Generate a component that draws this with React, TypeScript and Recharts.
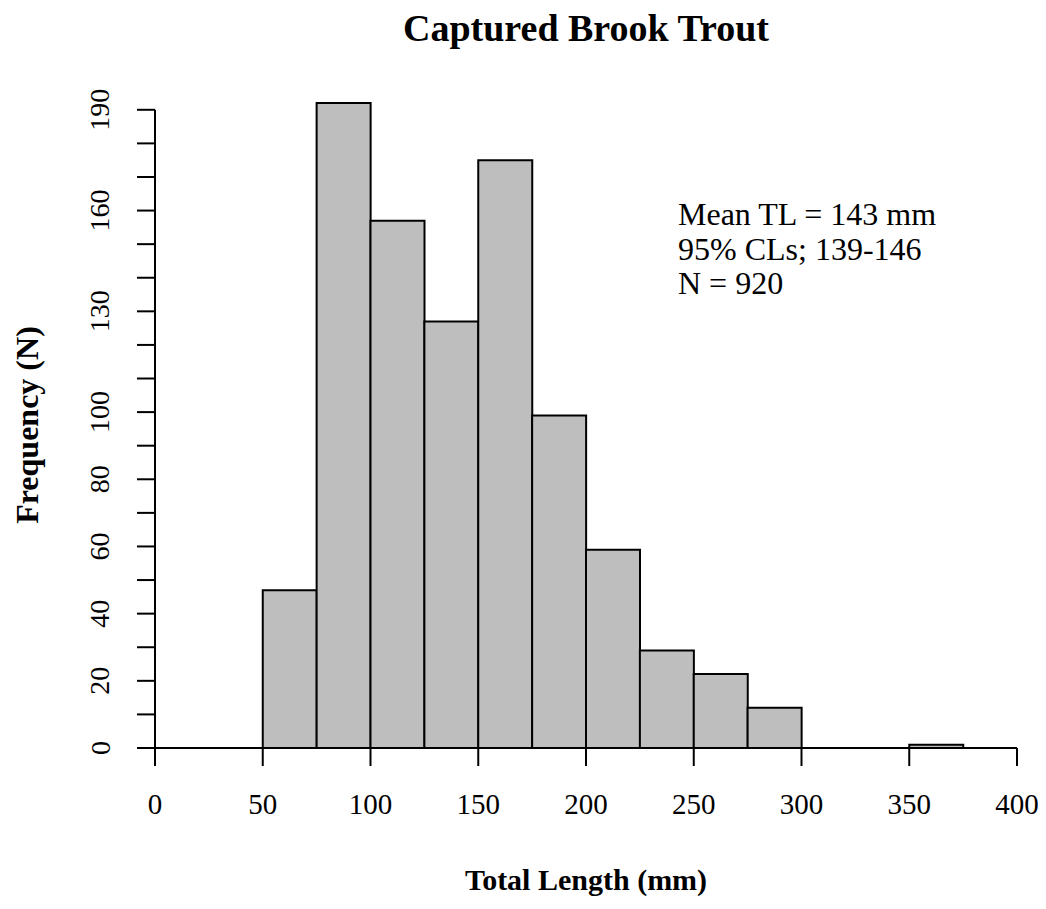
import { Bar, BarChart, XAxis, YAxis, ReferenceLine } from 'recharts'

document.body.style.margin = '0'

// 25 mm length classes from 0 to 400
const bins = [
  '0-25', '25-50', '50-75', '75-100', '100-125', '125-150', '150-175', '175-200',
  '200-225', '225-250', '250-275', '275-300', '300-325', '325-350', '350-375', '375-400',
]
const counts = [0, 0, 47, 192, 157, 127, 175, 99, 59, 29, 22, 12, 0, 0, 1, 0]

const xTicks = [0, 50, 100, 150, 200, 250, 300, 350, 400]
const yTicks = [0, 10, 20, 30, 40, 50, 60, 70, 80, 90, 100, 110, 120, 130, 140, 150, 160, 170, 180, 190]
const yLabels = [0, 20, 40, 60, 80, 100, 130, 160, 190]

const notes = ['Mean TL = 143 mm', '95% CLs; 139-146', 'N = 920']

const data = bins.map((bin, i) => ({ bin, lo: parseInt(bin, 10), count: counts[i] }))

const font = '"Liberation Serif", "Times New Roman", serif'

const YTick = ({ x, y, payload }: any) => {
  if (!yLabels.includes(payload.value)) return null
  const cx = x - 35
  return (
    <text
      x={cx}
      y={y}
      transform={`rotate(-90 ${cx} ${y})`}
      textAnchor="middle"
      dominantBaseline="central"
      fontSize={28}
      fontFamily={font}
      fill="#000"
    >
      {payload.value}
    </text>
  )
}

const XTick = ({ x, y, payload }: any) => (
  <text x={x} y={y + 38} textAnchor="middle" dominantBaseline="central" fontSize={29} fontFamily={font} fill="#000">
    {payload.value}
  </text>
)

export default function App() {
  return (
    <div style={{ position: 'relative', width: 1046, height: 909, background: '#fff', fontFamily: font }}>
      <BarChart
        width={1046}
        height={909}
        data={data}
        margin={{ top: 93, right: 29, bottom: 101, left: 75 }}
        barCategoryGap={0}
        barGap={0}
      >
        <XAxis xAxisId="cat" dataKey="bin" hide height={0} />
        <XAxis
          xAxisId="num"
          dataKey="lo"
          type="number"
          scale="linear"
          domain={[0, 400]}
          allowDataOverflow
          ticks={xTicks}
          interval={0}
          height={60}
          tickSize={18}
          tickMargin={0}
          stroke="#000"
          strokeWidth={2}
          tick={<XTick />}
        />
        <YAxis
          domain={[0, 195]}
          ticks={yTicks}
          interval={0}
          width={80}
          tickSize={18}
          axisLine={false}
          tickLine={{ stroke: '#000', strokeWidth: 2 }}
          tick={<YTick />}
        />
        <ReferenceLine
          xAxisId="num"
          segment={[{ x: 0, y: 0 }, { x: 0, y: 190 }]}
          stroke="#000"
          strokeWidth={2}
          ifOverflow="visible"
        />
        <Bar
          xAxisId="cat"
          dataKey="count"
          fill="#bebebe"
          stroke="#000"
          strokeWidth={2}
          isAnimationActive={false}
        />
      </BarChart>

      <div style={{ position: 'absolute', left: 0, width: 1172, top: 7, textAlign: 'center', fontSize: 38, fontWeight: 'bold', lineHeight: '42px' }}>
        Captured Brook Trout
      </div>
      <div style={{ position: 'absolute', left: 0, width: 1172, top: 862, textAlign: 'center', fontSize: 30, fontWeight: 'bold', lineHeight: '36px' }}>
        Total Length (mm)
      </div>
      <div
        style={{
          position: 'absolute',
          left: 27,
          top: 425,
          transform: 'translate(-50%, -50%) rotate(-90deg)',
          fontSize: 32,
          fontWeight: 'bold',
          whiteSpace: 'nowrap',
        }}
      >
        Frequency (N)
      </div>
      <div style={{ position: 'absolute', left: 678, top: 197, fontSize: 32, lineHeight: '34.5px' }}>
        {notes.map((n) => (
          <div key={n}>{n}</div>
        ))}
      </div>
    </div>
  )
}
